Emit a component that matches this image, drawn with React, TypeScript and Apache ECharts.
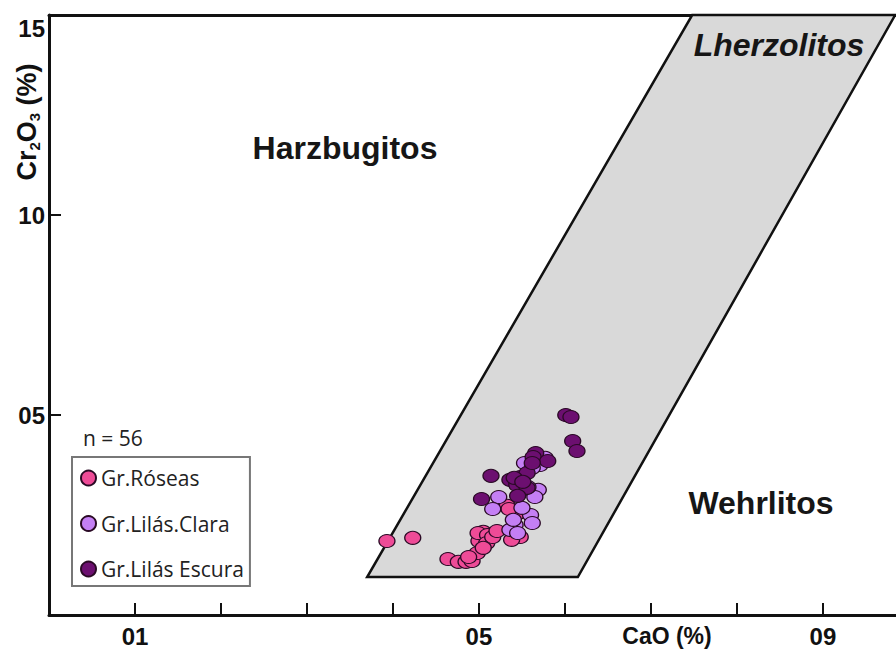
import React, { useEffect, useRef } from "react";
import * as echarts from "echarts";

// ---- data ----
const roseasCaO = [3.93, 4.23, 4.64, 4.76, 4.85, 4.92, 4.98, 5.0, 5.05, 4.99, 5.1, 5.09, 5.16, 5.21, 5.48, 5.44, 5.33, 5.38, 4.88, 5.05, 5.35];
const roseasCr = [1.85, 1.93, 1.4, 1.33, 1.33, 1.35, 1.55, 1.85, 2.08, 2.05, 2.0, 1.8, 1.95, 2.1, 1.95, 2.53, 2.73, 1.88, 1.45, 1.68, 2.65];

const claraCaO = [5.53, 5.71, 5.62, 5.69, 5.65, 5.23, 5.16, 5.6, 5.62, 5.42, 5.36, 5.45, 5.5, 5.77, 5.57, 5.4, 5.5];
const claraCr = [3.8, 3.75, 3.68, 3.13, 2.95, 2.95, 2.65, 2.5, 2.3, 2.25, 2.13, 2.05, 3.13, 3.93, 3.2, 2.38, 2.68];

const escuraCaO = [6.01, 6.07, 6.09, 6.14, 5.66, 5.63, 5.8, 5.14, 5.36, 5.48, 5.56, 5.44, 5.56, 5.03, 5.45, 5.62, 5.41, 5.51];
const escuraCr = [5.0, 4.95, 4.35, 4.1, 4.05, 3.95, 3.85, 3.48, 3.38, 3.45, 3.55, 3.25, 3.18, 2.9, 2.98, 3.8, 3.43, 3.33];

// Lherzolite field boundary (CaO, Cr2O3)
const fieldCaO = [3.7, 6.15, 9.84, 7.48];
const fieldCr = [0.95, 0.95, 15, 15];

const seriesNames = ["Gr.Róseas", "Gr.Lilás.Clara", "Gr.Lilás Escura"];
const seriesColors = ["#ee4b97", "#c47ff4", "#6c0f70"];

const xTickValues = [1, 2, 3, 4, 5, 6, 7, 8, 9];
const xLabelValues = [1, 5, 9];
const xLabelTexts = ["01", "05", "09"];
const yTickValues = [5, 10];
const yLabelValues = [5, 10, 15];
const yLabelTexts = ["05", "10", "15"];

const BOLD = "'Liberation Sans', Arial, Helvetica, sans-serif";
const REG = "'Open Sans', 'Noto Sans', sans-serif";

function zip(a: number[], b: number[]) {
  return a.map((v, i) => [v, b[i]]);
}

export default function App() {
  const ref = useRef<HTMLDivElement>(null);
  useEffect(() => {
    if (!ref.current) return;
    const chart = echarts.init(ref.current, null, { renderer: "svg" });
    const scatterBase = (name: string, color: string, data: number[][]) => ({
      name,
      type: "scatter",
      data,
      symbol: "circle",
      symbolSize: [16, 13],
      z: 3,
      itemStyle: { color, borderColor: "#2a0a25", borderWidth: 1.2, opacity: 1 },
    });
    chart.setOption({
      animation: false,
      backgroundColor: "#ffffff",
      grid: { left: 49, right: 0, top: 15, bottom: 35 },
      legend: {
        orient: "vertical",
        left: 72,
        top: 457,
        data: seriesNames,
        icon: "circle",
        itemWidth: 15,
        itemHeight: 15,
        itemGap: 23.5,
        itemTextGap: 6,
        padding: [10, 6, 6, 8],
        borderColor: "#777777",
        borderWidth: 2,
        selectedMode: false,
        textStyle: { fontFamily: REG, fontSize: 21, color: "#222", lineHeight: 22 },
      },
      xAxis: [
        {
          type: "value",
          min: 0,
          max: 9.85,
          interval: 1,
          splitLine: { show: false },
          axisLine: { show: true, lineStyle: { color: "#111", width: 3 } },
          axisTick: { show: true, inside: true, length: 12, lineStyle: { color: "#111", width: 2 }, customValues: xTickValues },
          axisLabel: {
            show: true,
            margin: 9,
            color: "#111",
            fontFamily: BOLD,
            fontWeight: "bold",
            fontSize: 24,
            customValues: xLabelValues,
            formatter: (v: number) => {
              const i = xLabelValues.indexOf(v);
              return i >= 0 ? xLabelTexts[i] : "";
            },
          },
        },
        {
          type: "value",
          position: "top",
          min: 0,
          max: 9.85,
          axisLine: { show: true, lineStyle: { color: "#111", width: 3 } },
          axisTick: { show: false },
          axisLabel: { show: false },
          splitLine: { show: false },
        },
      ],
      yAxis: {
        type: "value",
        min: 0,
        max: 15,
        interval: 5,
        splitLine: { show: false },
        axisLine: { show: true, lineStyle: { color: "#111", width: 3 } },
        axisTick: { show: true, inside: true, length: 12, lineStyle: { color: "#111", width: 2 }, customValues: yTickValues },
        axisLabel: {
          show: true,
          margin: 4,
          color: "#111",
          fontFamily: BOLD,
          fontWeight: "bold",
          fontSize: 24,
          customValues: yLabelValues,
          formatter: (v: number) => {
            const i = yLabelValues.indexOf(v);
            if (i < 0) return "";
            return v === 15 ? "{top|" + yLabelTexts[i] + "}" : yLabelTexts[i];
          },
          rich: {
            top: { fontFamily: BOLD, fontWeight: "bold", fontSize: 24, color: "#111", padding: [26, 0, 0, 0] },
          },
        },
      },
      series: [
        {
          type: "custom",
          name: "field",
          z: 1,
          silent: true,
          data: [[fieldCaO[0], fieldCr[0]]],
          renderItem: (params: any, api: any) => {
            const pts = fieldCaO.map((x, i) => api.coord([x, fieldCr[i]]));
            return {
              type: "polygon",
              shape: { points: pts },
              style: { fill: "#d9d9d9", stroke: "#111", lineWidth: 2.5 },
            };
          },
        },
        scatterBase(seriesNames[0], seriesColors[0], zip(roseasCaO, roseasCr)),
        scatterBase(seriesNames[1], seriesColors[1], zip(claraCaO, claraCr)),
        scatterBase(seriesNames[2], seriesColors[2], zip(escuraCaO, escuraCr)),
      ],
      graphic: [
        {
          type: "text",
          x: 27,
          y: 122,
          rotation: Math.PI / 2,
          style: {
            text: "{a|Cr}{s|2}{a|O}{s|3}{a| (%)}",
            align: "center",
            verticalAlign: "middle",
            rich: {
              a: { fontFamily: BOLD, fontWeight: "bold", fontSize: 27, fill: "#111", lineHeight: 30, verticalAlign: "middle" },
              s: { fontFamily: BOLD, fontWeight: "bold", fontSize: 15, fill: "#111", lineHeight: 15, verticalAlign: "bottom" },
            },
          },
        },
        {
          type: "text",
          x: 667,
          y: 636,
          style: { text: "CaO (%)", fontFamily: BOLD, fontWeight: "bold", fontSize: 23, fill: "#111", align: "center", verticalAlign: "middle" },
        },
        {
          type: "text",
          x: 345,
          y: 148,
          z: 10,
          style: { text: "Harzbugitos", fontFamily: BOLD, fontWeight: "bold", fontSize: 32, fill: "#161616", align: "center", verticalAlign: "middle" },
        },
        {
          type: "text",
          x: 761,
          y: 503,
          z: 10,
          style: { text: "Wehrlitos", fontFamily: BOLD, fontWeight: "bold", fontSize: 32, fill: "#161616", align: "center", verticalAlign: "middle" },
        },
        {
          type: "text",
          x: 779,
          y: 45,
          z: 10,
          style: { text: "Lherzolitos", fontFamily: BOLD, fontWeight: "bold", fontStyle: "italic", fontSize: 32, fill: "#161616", align: "center", verticalAlign: "middle" },
        },
        {
          type: "text",
          x: 83,
          y: 438,
          z: 10,
          style: { text: "n = 56", fontFamily: REG, fontSize: 21, fill: "#222", align: "left", verticalAlign: "middle" },
        },
      ],
    });
    return () => chart.dispose();
  }, []);
  return <div ref={ref} style={{ position: "absolute", left: 0, top: 0, width: 896, height: 650 }} />;
}
